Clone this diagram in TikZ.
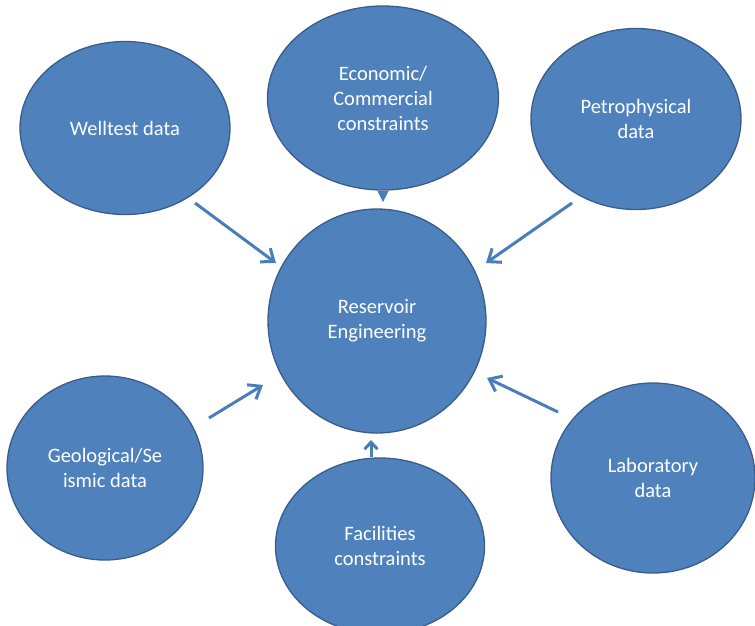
\documentclass[tikz,border=0pt]{standalone}
\usepackage{fontspec}
\setmainfont{Carlito}
\usetikzlibrary{shapes.geometric,arrows.meta}
\definecolor{bubblefill}{HTML}{4F81BD}
\definecolor{bubbleedge}{HTML}{385D8A}
\definecolor{arrowblue}{HTML}{4A7EBB}
\begin{document}
\begin{tikzpicture}[x=1pt,y=-1pt,
  bubble/.style={ellipse, draw=bubbleedge, fill=bubblefill, line width=1.3pt,
    inner sep=0pt, text=white, align=center,
    font=\fontsize{20.5}{25}\selectfont},
  feed/.style={draw=arrowblue, line width=3pt,
    -{Straight Barb[length=11pt,width=17pt]}},
  smallfeed/.style={draw=arrowblue, line width=3pt,
    -{Straight Barb[length=7pt,width=13pt]}},
  dropfeed/.style={draw=arrowblue, line width=1pt,
    -{Triangle[length=11pt,width=11pt]}}]
\useasboundingbox (0,0) rectangle (755,625);
\clip (0,0) rectangle (755,625);

% the central topic and the six inputs around it
\node[bubble, minimum width=218pt, minimum height=224pt] (res) at (377,321) {Reservoir\\Engineering};
\node[bubble, minimum width=210pt, minimum height=173pt] (well) at (125,128) {Welltest data};
\node[bubble, minimum width=231pt, minimum height=184pt] (econ) at (383,98) {Economic/\\Commercial\\constraints};
\node[bubble, minimum width=210pt, minimum height=181pt] (petro) at (636,119) {Petrophysical\\data};
\node[bubble, minimum width=196pt, minimum height=184pt] (geo) at (105,468) {Geological/Se\\ismic data};
\node[bubble, minimum width=209pt, minimum height=176pt] (fac) at (380,546) {Facilities\\constraints};
\node[bubble, minimum width=204pt, minimum height=190pt] (lab) at (653,478) {Laboratory\\data};

% arrow end points
\coordinate (wellA) at (195,203);  \coordinate (wellB) at (276,263);
\coordinate (petroA) at (572,203); \coordinate (petroB) at (486,263);
\coordinate (geoA) at (209,418);   \coordinate (geoB) at (263,385);
\coordinate (labA) at (558,412);   \coordinate (labB) at (487,378);
\coordinate (econB) at (383,202);
\coordinate (facB) at (371,440);

\draw[feed] (wellA) -- (wellB);
\draw[feed] (petroA) -- (petroB);
\draw[feed] (geoA) -- (geoB);
\draw[feed] (labA) -- (labB);
\draw[dropfeed] (econ.south) -- (econB);
\draw[smallfeed] (fac.north -| facB) -- (facB);
\end{tikzpicture}
\end{document}
